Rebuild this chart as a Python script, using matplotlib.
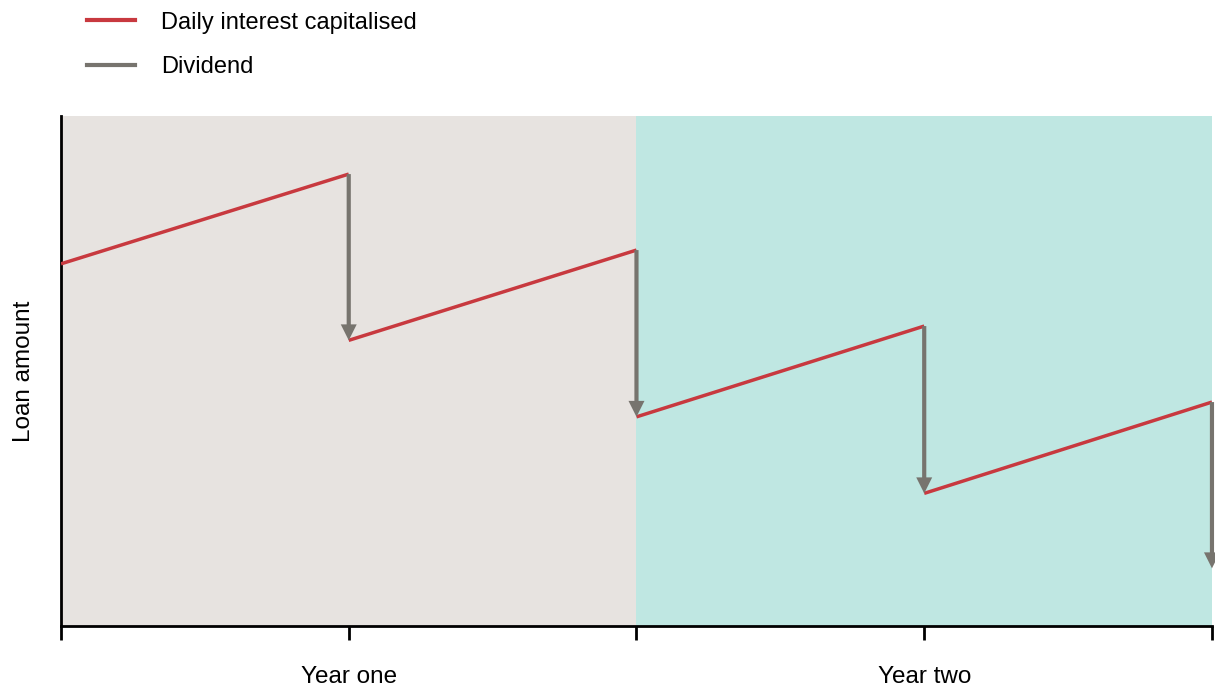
import matplotlib.pyplot as plt
from matplotlib.lines import Line2D

plt.rcParams['font.family'] = ['Liberation Sans', 'DejaVu Sans']

# half-year steps across the two years
periods = [0, 1, 2, 3, 4]
# loan balance just after each dividend (start, then troughs)
after_dividend = [71.0, 56.0, 41.0, 26.0, 11.3]
# loan balance just before each dividend (peaks)
before_dividend = [88.6, 73.7, 58.8, 43.9]
year_labels = ['Year one', 'Year two']

red = '#c8393f'
grey = '#77746e'

fig = plt.figure(figsize=(12.15, 6.86), dpi=100)
ax = fig.add_axes([0.0502, 0.0875, 0.9473, 0.7435])

ax.axvspan(0, 2, color='#e7e3e0', lw=0, zorder=0)
ax.axvspan(2, 4, color='#bfe7e2', lw=0, zorder=0)

# interest builds up between dividends
for i in range(len(before_dividend)):
    ax.plot([periods[i], periods[i + 1]], [after_dividend[i], before_dividend[i]],
            color=red, lw=2.5, solid_capstyle='butt', zorder=3)

# each dividend knocks the balance down
for i in range(len(before_dividend)):
    x = periods[i + 1]
    ax.annotate('', xy=(x, after_dividend[i + 1]), xytext=(x, before_dividend[i]),
                arrowprops=dict(width=3, headwidth=11.5, headlength=11.5,
                                facecolor=grey, edgecolor='none', shrink=0),
                zorder=4, annotation_clip=False)

ax.set_xlim(0, 4)
ax.set_ylim(0, 100)
ax.set_yticks([])
ax.set_xticks(periods)
ax.set_xticklabels([])
ax.tick_params(axis='x', length=10, width=2, color='black')
for s in ['top', 'right']:
    ax.spines[s].set_visible(False)
for s in ['left', 'bottom']:
    ax.spines[s].set_linewidth(2)
    ax.spines[s].set_color('black')

for x, lab in zip([1, 3], year_labels):
    ax.text(x, -10.0, lab, ha='center', va='center', fontsize=17.5)

ax.set_ylabel('Loan amount', fontsize=17.5, labelpad=19)

handles = [Line2D([], [], color=red, lw=3), Line2D([], [], color=grey, lw=3)]
fig.legend(handles, ['Daily interest capitalised', 'Dividend'], loc='upper left',
           bbox_to_anchor=(0.054, 1.014), frameon=False, fontsize=17,
           handlelength=2.05, handletextpad=1.1, labelspacing=0.95)

fig.savefig('out.png')
